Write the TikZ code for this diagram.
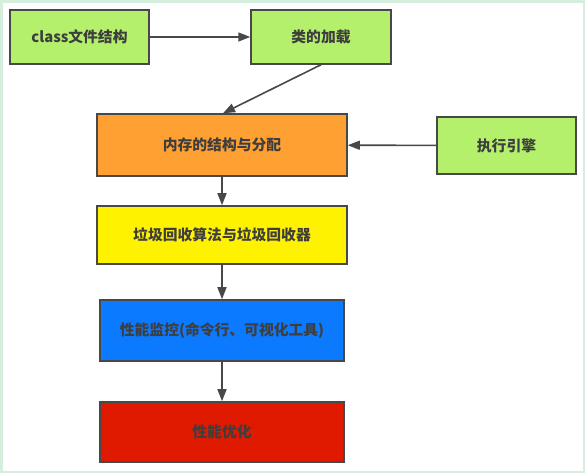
\documentclass[tikz,border=0pt]{standalone}
\usepackage{fontspec}
\setmainfont{Noto Sans CJK SC}
\usetikzlibrary{arrows.meta}
\definecolor{framegreen}{RGB}{214,238,222}
\definecolor{leafgreen}{RGB}{180,240,108}
\definecolor{memorange}{RGB}{255,160,50}
\definecolor{gcyellow}{RGB}{255,242,0}
\definecolor{monblue}{RGB}{12,122,255}
\definecolor{optred}{RGB}{224,26,0}
\definecolor{boxline}{RGB}{72,72,72}
\definecolor{textgray}{RGB}{62,62,62}
\begin{document}
\begin{tikzpicture}[x=1pt, y=1pt,
	box/.style={
	rectangle, inner sep=0pt, line width=1.5pt, draw=boxline,
	font=\fontsize{14.8pt}{16pt}\selectfont\bfseries, text=textgray},
	flow/.style={line width=1.6pt, draw=boxline, -{Triangle[length=12pt, width=9pt]}}]
	% frame
	\fill[framegreen] (0,0) rectangle (585,473);
	\fill[white] (3,2) rectangle (583,470);
	\node[box, fill=leafgreen, minimum width=139pt, minimum height=54pt] (class) at (79.5,436) {class文件结构};
	\node[box, fill=leafgreen, minimum width=140pt, minimum height=54pt] (load) at (321,436) {类的加载};
	\node[box, fill=memorange, minimum width=250pt, minimum height=62pt] (mem) at (222,328) {内存的结构与分配};
	\node[box, fill=leafgreen, minimum width=139pt, minimum height=57pt] (exec) at (506.5,327.5) {执行引擎};
	\node[box, fill=gcyellow, minimum width=250pt, minimum height=58pt] (gc) at (222,238) {垃圾回收算法与垃圾回收器};
	\node[box, fill=monblue, minimum width=244pt, minimum height=61pt] (mon) at (222,142.5) {性能监控(命令行、可视化工具)};
	\node[box, fill=optred, minimum width=244pt, minimum height=60pt] (opt) at (222,41) {性能优化};
	\path
				(class) edge[flow] (load)
				(load.south) edge[flow] ([xshift=1pt]mem.north)
				(exec) edge[flow] (mem)
				(mem) edge[flow] (gc)
				(gc) edge[flow] (mon)
				(mon) edge[flow] (opt);
\end{tikzpicture}
\end{document}
